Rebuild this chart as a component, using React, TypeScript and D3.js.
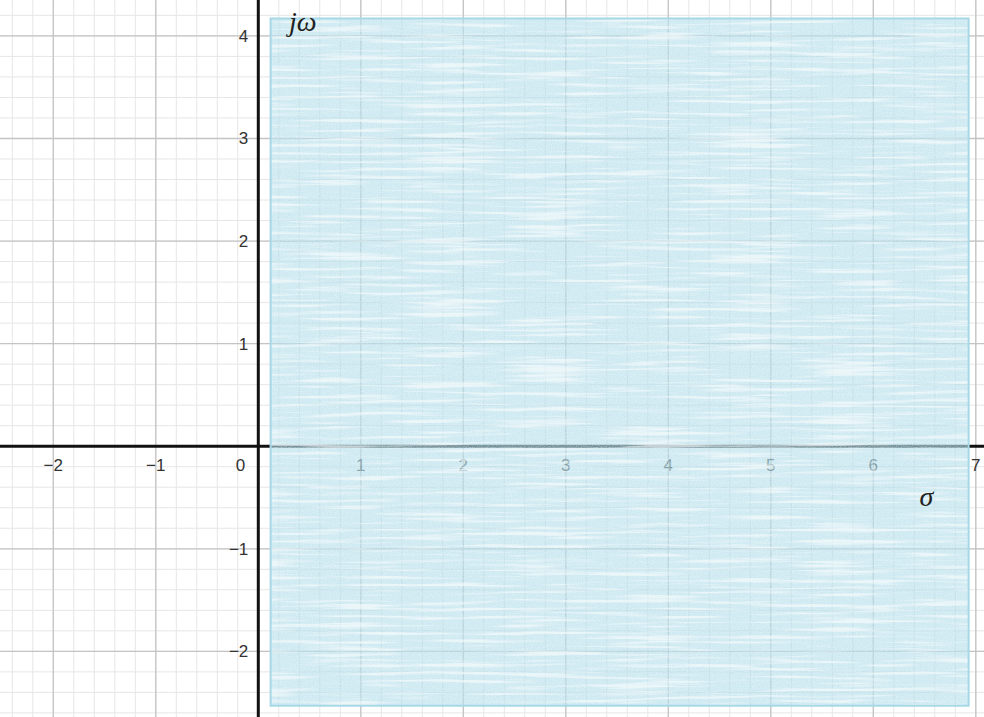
import React from "react";
import * as d3 from "d3";

// s-plane view window (σ horizontal, jω vertical)
const sigmaDomain = [-2.52, 7.08];
const omegaDomain = [-2.64, 4.35];

// labelled integer ticks
const sigmaTicks = [-2, -1, 1, 2, 3, 4, 5, 6, 7];
const omegaTicks = [-2, -1, 1, 2, 3, 4];

// shaded region of the plane
const regionSigma = [0.12, 6.93];
const regionOmega = [-2.53, 4.17];

const W = 984;
const H = 717;

export default function App() {
  const x = d3.scaleLinear().domain(sigmaDomain).range([0, W]);
  const y = d3.scaleLinear().domain(omegaDomain).range([H, 0]);

  const minorX = d3.range(Math.ceil(sigmaDomain[0] * 5), Math.floor(sigmaDomain[1] * 5) + 1).map((d) => d / 5);
  const minorY = d3.range(Math.ceil(omegaDomain[0] * 5), Math.floor(omegaDomain[1] * 5) + 1).map((d) => d / 5);
  const majorX = d3.range(Math.ceil(sigmaDomain[0]), Math.floor(sigmaDomain[1]) + 1);
  const majorY = d3.range(Math.ceil(omegaDomain[0]), Math.floor(omegaDomain[1]) + 1);

  const rx = x(regionSigma[0]);
  const rw = x(regionSigma[1]) - x(regionSigma[0]);
  const ry = y(regionOmega[1]);
  const rh = y(regionOmega[0]) - y(regionOmega[1]);

  const tickFont = { fontFamily: "'Liberation Sans', Arial, sans-serif", fontSize: 17, fill: "#333" };
  const mathFont = { fontFamily: "'Liberation Serif', 'Times New Roman', serif", fontStyle: "italic", fontSize: 28, fill: "#222" };

  return (
    <svg width={W} height={H} style={{ position: "absolute", left: 0, top: 0, background: "#fff" }}>
      <defs>
        <filter id="streaks" x="0" y="0" width="100%" height="100%">
          <feTurbulence type="fractalNoise" baseFrequency="0.01 0.25" numOctaves="3" seed="11" result="n" />
          <feColorMatrix in="n" type="matrix" values="0 0 0 0 1  0 0 0 0 1  0 0 0 0 1  4.5 0 0 0 -2.25" result="s" />
          <feTurbulence type="fractalNoise" baseFrequency="0.8 0.8" numOctaves="1" seed="3" result="g" />
          <feColorMatrix in="g" type="matrix" values="0 0 0 0 1  0 0 0 0 1  0 0 0 0 1  1.3 0 0 0 -0.5" result="gs" />
          <feMerge result="m">
            <feMergeNode in="s" />
            <feMergeNode in="gs" />
          </feMerge>
          <feComposite in="m" in2="SourceGraphic" operator="in" />
        </filter>
      </defs>

      {/* minor grid */}
      <g stroke="#e6e6e6" strokeWidth={1}>
        {minorX.map((v) => (
          <line key={"mx" + v} x1={x(v)} x2={x(v)} y1={0} y2={H} />
        ))}
        {minorY.map((v) => (
          <line key={"my" + v} x1={0} x2={W} y1={y(v)} y2={y(v)} />
        ))}
      </g>
      {/* major grid */}
      <g stroke="#c4c4c4" strokeWidth={1.3}>
        {majorX.map((v) => (
          <line key={"Mx" + v} x1={x(v)} x2={x(v)} y1={0} y2={H} />
        ))}
        {majorY.map((v) => (
          <line key={"My" + v} x1={0} x2={W} y1={y(v)} y2={y(v)} />
        ))}
      </g>

      {/* axes */}
      <line x1={0} x2={W} y1={y(0)} y2={y(0)} stroke="#111" strokeWidth={3} />
      <line x1={x(0)} x2={x(0)} y1={0} y2={H} stroke="#111" strokeWidth={3} />

      {/* tick labels */}
      <g {...tickFont}>
        {sigmaTicks.map((v) => (
          <text key={"tx" + v} x={x(v)} y={y(0) + 25} textAnchor="middle">
            {v < 0 ? "\u2212" + Math.abs(v) : String(v)}
          </text>
        ))}
        {omegaTicks.map((v) => (
          <text key={"ty" + v} x={x(0) - 10} y={y(v) + 6} textAnchor="end">
            {v < 0 ? "\u2212" + Math.abs(v) : String(v)}
          </text>
        ))}
        <text x={x(0) - 13} y={y(0) + 25} textAnchor="end">0</text>
      </g>

      {/* shaded region */}
      <rect x={rx} y={ry} width={rw} height={rh} fill="#aedbe8" fillOpacity={0.62} />
      <rect x={rx} y={ry} width={rw} height={rh} fill="#fff" filter="url(#streaks)" opacity={0.6} />
      <rect x={rx} y={ry} width={rw} height={rh} fill="none" stroke="#a6d8e6" strokeWidth={2} />

      {/* axis names */}
      <text x={x(0.3)} y={y(4.05)} {...mathFont}>jω</text>
      <text x={x(6.45)} y={y(-0.58)} {...mathFont}>σ</text>
    </svg>
  );
}
